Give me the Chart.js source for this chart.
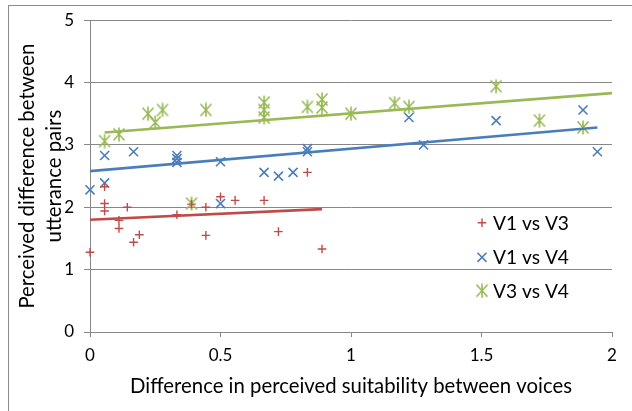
<!DOCTYPE html>
<html>
<head>
<meta charset="utf-8">
<script src="https://cdn.jsdelivr.net/npm/chart.js@4/dist/chart.umd.min.js"></script>
<style>
  html, body { margin: 0; padding: 0; background: #fff; overflow: hidden; }
  #wrap { position: relative; width: 632px; height: 411px; }
  #frame { position: absolute; left: 8px; top: 5px; width: 700px; height: 500px; border: 1px solid #8c8c8c; }
  canvas { position: absolute; left: 0; top: 0; }
</style>
</head>
<body>
<div id="wrap">
  <div id="frame"></div>
  <canvas id="chart" width="632" height="411"></canvas>
</div>
<script>
const seriesNames = ["V1 vs V3", "V1 vs V4", "V3 vs V4"];
const xTitle = "Difference in perceived suitability between voices";
const yTitle = ["Perceived difference between", "utterance pairs"];

const v13X = [0, 0.056, 0.056, 0.056, 0.111, 0.111, 0.143, 0.167, 0.189, 0.333, 0.389, 0.444, 0.444, 0.5, 0.556, 0.667, 0.722, 0.833, 0.889];
const v13Y = [1.28, 2.33, 2.06, 1.94, 1.79, 1.66, 2.0, 1.44, 1.56, 1.88, 2.05, 2.0, 1.55, 2.17, 2.11, 2.11, 1.61, 2.56, 1.33];

const v14X = [0, 0.056, 0.056, 0.167, 0.333, 0.333, 0.333, 0.5, 0.5, 0.667, 0.722, 0.778, 0.833, 0.833, 1.222, 1.278, 1.556, 1.889, 1.944];
const v14Y = [2.28, 2.39, 2.83, 2.89, 2.83, 2.78, 2.72, 2.73, 2.06, 2.56, 2.5, 2.56, 2.94, 2.89, 3.44, 3.0, 3.39, 3.56, 2.89];

const v34X = [0.056, 0.111, 0.222, 0.25, 0.278, 0.389, 0.444, 0.667, 0.667, 0.667, 0.833, 0.889, 0.889, 1.0, 1.167, 1.222, 1.556, 1.722, 1.889];
const v34Y = [3.06, 3.17, 3.5, 3.36, 3.56, 2.06, 3.56, 3.68, 3.56, 3.44, 3.61, 3.73, 3.6, 3.5, 3.67, 3.61, 3.94, 3.39, 3.28];

// trendline end points
const trend13X = [0, 0.889];
const trend13Y = [1.80, 1.97];
const trend14X = [0, 1.944];
const trend14Y = [2.58, 3.28];
const trend34X = [0.056, 2];
const trend34Y = [3.20, 3.83];

const xTicks = [0, 0.5, 1, 1.5, 2];
const yTicks = [0, 1, 2, 3, 4, 5];

const RED = "#be4b48";
const BLUE = "#4a7ebb";
const GREEN = "#98b954";
const GRID = "#878787";
const FONT = "Lato";

function pts(xs, ys) {
  return xs.map((x, i) => ({ x, y: ys[i] }));
}

// pick a font size so the text is as wide as in the original
function fitFont(ctx, text, width) {
  ctx.font = `20px ${FONT}`;
  const size = 20 * width / ctx.measureText(text).width;
  ctx.font = `${size.toFixed(2)}px ${FONT}`;
  return size;
}

// Excel-style asterisk: an x with a vertical bar
function asteriskMarker(color) {
  const c = document.createElement("canvas");
  c.width = 14;
  c.height = 15;
  const g = c.getContext("2d");
  g.strokeStyle = color;
  g.lineWidth = 1.6;
  g.beginPath();
  g.moveTo(1.5, 1.5); g.lineTo(12.5, 13.5);
  g.moveTo(12.5, 1.5); g.lineTo(1.5, 13.5);
  g.moveTo(7, 0.5); g.lineTo(7, 14.5);
  g.stroke();
  return c;
}
const greenStar = asteriskMarker(GREEN);

const markerStyles = [
  { pointStyle: "cross", radius: 4.3, borderWidth: 1.4, color: RED },
  { pointStyle: "crossRot", radius: 6.4, borderWidth: 1.6, color: BLUE },
  { pointStyle: greenStar, radius: 7, borderWidth: 1, color: GREEN },
];

const titlesAndLegend = {
  id: "titlesAndLegend",
  afterDraw(chart) {
    const ctx = chart.ctx;
    const area = chart.chartArea;
    ctx.save();
    ctx.fillStyle = "#000";

    // x axis title
    ctx.textBaseline = "middle";
    ctx.textAlign = "center";
    fitFont(ctx, xTitle, 442);
    ctx.fillText(xTitle, (area.left + area.right) / 2, area.bottom + 54);

    // y axis title, two rotated lines placed by their baselines
    ctx.textBaseline = "alphabetic";
    fitFont(ctx, yTitle[0], 265);
    const cy = (area.top + area.bottom) / 2;
    yTitle.forEach((line, i) => {
      ctx.save();
      ctx.translate(34 + i * 27, cy);
      ctx.rotate(-Math.PI / 2);
      ctx.fillText(line, 0, 0);
      ctx.restore();
    });

    // legend inside the plot
    ctx.textBaseline = "middle";
    const mx = area.right - 130;
    const rows = [222.7, 257.3, 290.7];
    ctx.textAlign = "left";
    seriesNames.forEach((name, i) => {
      const m = markerStyles[i];
      ctx.strokeStyle = m.color;
      ctx.fillStyle = m.color;
      ctx.lineWidth = m.borderWidth;
      Chart.helpers.drawPoint(ctx, { pointStyle: m.pointStyle, radius: m.radius, rotation: 0, borderWidth: m.borderWidth }, mx, rows[i]);
      ctx.fillStyle = "#000";
      fitFont(ctx, seriesNames[0], 76);
      ctx.fillText(name, mx + 11, rows[i] + 1);
    });
    ctx.restore();
  },
};

const scatterSet = (i, xs, ys) => ({
  label: seriesNames[i],
  data: pts(xs, ys),
  pointStyle: markerStyles[i].pointStyle,
  pointRadius: markerStyles[i].radius,
  pointBorderWidth: markerStyles[i].borderWidth,
  borderColor: markerStyles[i].color,
  backgroundColor: markerStyles[i].color,
  showLine: false,
  clip: false,
  order: 1,
});

const trendSet = (color, xs, ys) => ({
  label: "trend",
  data: pts(xs, ys),
  showLine: true,
  borderColor: color,
  borderWidth: 2.6,
  pointRadius: 0,
  fill: false,
  order: 0,
});

new Chart(document.getElementById("chart"), {
  type: "scatter",
  data: {
    datasets: [
      scatterSet(0, v13X, v13Y),
      scatterSet(1, v14X, v14Y),
      scatterSet(2, v34X, v34Y),
      trendSet(RED, trend13X, trend13Y),
      trendSet(BLUE, trend14X, trend14Y),
      trendSet(GREEN, trend34X, trend34Y),
    ],
  },
  options: {
    responsive: false,
    animation: false,
    layout: { padding: { top: 17, right: 20, left: 0, bottom: 0 } },
    plugins: {
      legend: { display: false },
      tooltip: { enabled: false },
    },
    scales: {
      x: {
        type: "linear",
        min: 0,
        max: 2,
        afterBuildTicks: (s) => { s.ticks = xTicks.map((v) => ({ value: v })); },
        afterFit: (s) => { s.height = 79; },
        ticks: { color: "#000", font: { family: FONT, size: 17 }, padding: 8, callback: (v) => String(v) },
        grid: { drawOnChartArea: false, drawTicks: true, tickLength: 5, color: GRID, lineWidth: 1 },
        border: { color: GRID, width: 1 },
      },
      y: {
        type: "linear",
        min: 0,
        max: 5,
        afterBuildTicks: (s) => { s.ticks = yTicks.map((v) => ({ value: v })); },
        afterFit: (s) => { s.width = 90; },
        ticks: { color: "#000", font: { family: FONT, size: 17 }, padding: 10 },
        grid: { color: GRID, lineWidth: 1, tickLength: 6 },
        border: { color: GRID, width: 1 },
      },
    },
  },
  plugins: [titlesAndLegend],
});
</script>
</body>
</html>
